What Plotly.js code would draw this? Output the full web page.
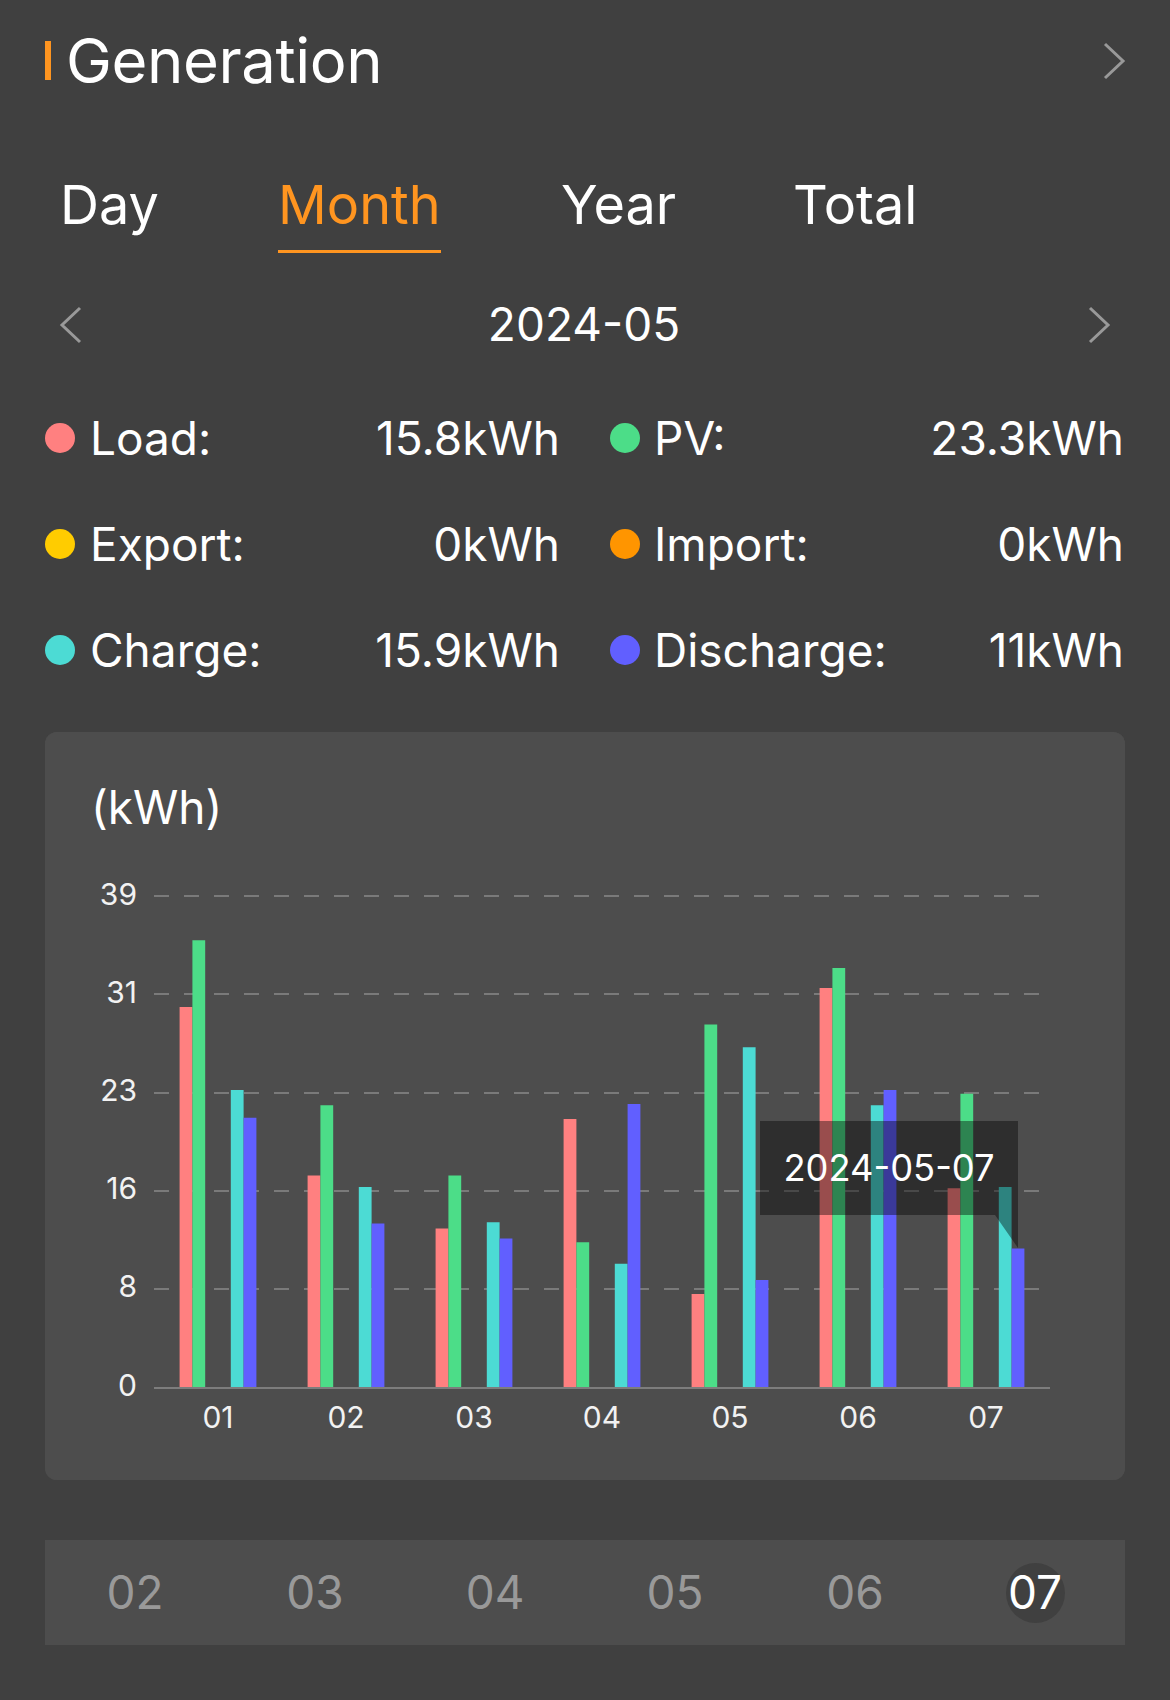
<!DOCTYPE html>
<html>
<head>
<meta charset="utf-8">
<script src="https://cdn.plot.ly/plotly-3.0.1.min.js"></script>
<style>
  html, body { margin: 0; padding: 0; background: #404040; }
  #page { position: relative; width: 1170px; height: 1700px; overflow: hidden; font-family: Inter, sans-serif; color: #fff; }
  #page > * { position: absolute; }
  .t { line-height: 1; white-space: nowrap; }
  .tab { top: 178px; font-size: 54px; }
  .row { font-size: 46px; }
  .val { font-size: 46px; text-align: right; }
  .dot { width: 30px; height: 30px; border-radius: 50%; }
  .pick { top: 1569px; font-size: 46px; color: #999; width: 120px; text-align: center; }
  #card { left: 45px; top: 732px; width: 1080px; height: 748px; background: #4d4d4d; border-radius: 12px; overflow: hidden; }
  #tip { left: 760px; top: 1121px; width: 258px; height: 127px; background: rgba(0,0,0,0.4);
         clip-path: polygon(0 0, 258px 0, 258px 127px, 235px 94px, 0 94px); }
  svg { overflow: visible; }
</style>
</head>
<body>
<div id="page">
  <div style="left:45px;top:41px;width:6px;height:38.5px;background:#ff9520"></div>
  <div class="t" style="left:66px;top:30px;font-size:61.6px;letter-spacing:-0.4px">Generation</div>
  <svg style="left:1103px;top:43px" width="22" height="36"><polyline points="2,1 20,18 2,35" fill="none" stroke="#999" stroke-width="3"/></svg>

  <div class="t tab" style="left:60px">Day</div>
  <div class="t tab" style="left:278px;color:#ff9520">Month</div>
  <div class="t tab" style="left:561px">Year</div>
  <div class="t tab" style="left:793px">Total</div>
  <div style="left:278px;top:250px;width:163px;height:3px;background:#ff9520"></div>

  <svg style="left:60px;top:307px" width="22" height="36"><polyline points="20,1 2,18 20,35" fill="none" stroke="#999" stroke-width="3"/></svg>
  <div class="t" style="left:384px;width:400px;text-align:center;top:301px;font-size:46px">2024-05</div>
  <svg style="left:1088px;top:307px" width="22" height="36"><polyline points="2,1 20,18 2,35" fill="none" stroke="#999" stroke-width="3"/></svg>

  <div class="dot" style="left:45px;top:423px;background:#ff8080"></div>
  <div class="t row" style="left:90px;top:415px">Load:</div>
  <div class="t val" style="right:610px;top:415px">15.8kWh</div>
  <div class="dot" style="left:610px;top:423px;background:#4cdd88"></div>
  <div class="t row" style="left:654px;top:415px">PV:</div>
  <div class="t val" style="right:46px;top:415px">23.3kWh</div>

  <div class="dot" style="left:45px;top:529px;background:#ffcc00"></div>
  <div class="t row" style="left:90px;top:521px">Export:</div>
  <div class="t val" style="right:610px;top:521px">0kWh</div>
  <div class="dot" style="left:610px;top:529px;background:#ff9500"></div>
  <div class="t row" style="left:654px;top:521px">Import:</div>
  <div class="t val" style="right:46px;top:521px">0kWh</div>

  <div class="dot" style="left:45px;top:635px;background:#4cdbd4"></div>
  <div class="t row" style="left:90px;top:627px">Charge:</div>
  <div class="t val" style="right:610px;top:627px">15.9kWh</div>
  <div class="dot" style="left:610px;top:635px;background:#615fff"></div>
  <div class="t row" style="left:654px;top:627px">Discharge:</div>
  <div class="t val" style="right:46px;top:627px">11kWh</div>

  <div id="card"><div id="chart"></div></div>

  <div id="tip"></div>
  <div class="t" style="left:760px;width:258px;text-align:center;top:1150px;font-size:36.3px">2024-05-07</div>

  <div style="left:45px;top:1540px;width:1080px;height:105px;background:#4d4d4d"></div>
  <div style="left:1006px;top:1563px;width:59px;height:60px;border-radius:50%;background:#404040"></div>
  <div class="t pick" style="left:75px">02</div>
  <div class="t pick" style="left:255px">03</div>
  <div class="t pick" style="left:435px">04</div>
  <div class="t pick" style="left:615px">05</div>
  <div class="t pick" style="left:795px">06</div>
  <div class="t pick" style="left:975px;color:#fff">07</div>
</div>

<script>
var days = ['01', '02', '03', '04', '05', '06', '07'];
var loadKwh = [30.2, 16.8, 12.6, 21.3, 7.4, 31.7, 15.8];
var pvKwh = [35.5, 22.4, 16.8, 11.5, 28.8, 33.3, 23.3];
var exportKwh = [0, 0, 0, 0, 0, 0, 0];
var importKwh = [0, 0, 0, 0, 0, 0, 0];
var chargeKwh = [23.6, 15.9, 13.1, 9.8, 27.0, 22.4, 15.9];
var dischargeKwh = [21.4, 13.0, 11.8, 22.5, 8.5, 23.6, 11.0];
var yTicks = [0, 7.8, 15.6, 23.4, 31.2, 39];
var yLabels = ['0', '8', '16', '23', '31', '39'];

function bars(name, values, color) {
  return { x: days, y: values, name: name, type: 'bar', marker: { color: color, line: { width: 0 } } };
}

var data = [
  bars('Load', loadKwh, '#ff8080'),
  bars('PV', pvKwh, '#4cdd88'),
  bars('Export', exportKwh, '#ffcc00'),
  bars('Import', importKwh, '#ff9500'),
  bars('Charge', chargeKwh, '#4cdbd4'),
  bars('Discharge', dischargeKwh, '#615fff')
];

var layout = {
  width: 1080,
  height: 748,
  margin: { l: 108.7, r: 75, t: 162.5, b: 93.2 },
  paper_bgcolor: '#4d4d4d',
  plot_bgcolor: '#4d4d4d',
  showlegend: false,
  barmode: 'group',
  bargap: 0.4,
  bargroupgap: 0,
  font: { family: 'Inter, sans-serif', color: '#f2f2f2', size: 30 },
  xaxis: {
    type: 'category',
    showgrid: false,
    showline: true,
    linecolor: '#7d7d7d',
    linewidth: 2,
    ticks: 'outside',
    ticklen: 3,
    tickcolor: 'rgba(0,0,0,0)',
    tickfont: { size: 30 }
  },
  yaxis: {
    range: [0, 39.1],
    tickmode: 'array',
    tickvals: yTicks,
    ticktext: yLabels,
    showgrid: true,
    gridcolor: '#7a7a7a',
    gridwidth: 2,
    griddash: '15px,15px',
    zeroline: false,
    ticks: 'outside',
    ticklen: 10,
    ticklabelshift: -2,
    tickcolor: 'rgba(0,0,0,0)',
    tickfont: { size: 30 }
  },
  annotations: [{
    text: '(kWh)',
    xref: 'paper', yref: 'paper',
    x: -0.0731, y: 1.1785,
    xanchor: 'left', yanchor: 'middle',
    showarrow: false,
    font: { size: 46, color: '#ffffff' }
  }]
};

Plotly.newPlot('chart', data, layout, { staticPlot: true, displayModeBar: false });
</script>
</body>
</html>
